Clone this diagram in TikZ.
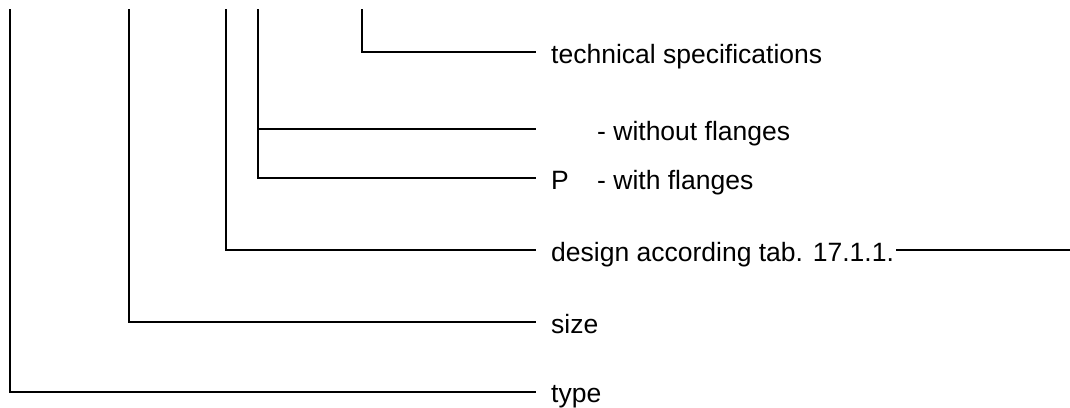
\documentclass[tikz,border=0pt]{standalone}
\usepackage{fontspec}
\setmainfont{Liberation Sans}
\begin{document}
\begin{tikzpicture}[x=1pt,y=-1pt,
  conn/.style={line width=1.4pt, black},
  lbl/.style={anchor=base west, inner sep=0pt, font=\fontsize{26.5}{32}\selectfont}]
\useasboundingbox (0,0) rectangle (1070,407);
% tops of the vertical stems
\coordinate (s1) at (10,9);
\coordinate (s2) at (129,9);
\coordinate (s3) at (226,9);
\coordinate (s4) at (258,9);
\coordinate (s5) at (362,9);
% ends of the horizontal leaders
\coordinate (e1) at (536,52);
\coordinate (e2) at (536,129);
\coordinate (e3) at (536,178);
\coordinate (e4) at (536,250);
\coordinate (e5) at (536,322);
\coordinate (e6) at (536,392);
% labels
\node[lbl] (tech) at (551,63) {technical specifications};
\node[lbl] (wo) at (597,140) {- without flanges};
\node[lbl] (p) at (551,189) {P};
\node[lbl] (wf) at (597,189) {- with flanges};
\node[lbl] (design) at (551,261) {design according tab. 17.1.1.};
\node[lbl] (size) at (551,333) {size};
\node[lbl] (type) at (551,402) {type};
\coordinate (d1) at (896,250);
\coordinate (d2) at (1070,250);
% connectors
\draw[conn] (s5) |- (e1);
\draw[conn] (s4) |- (e3);
\draw[conn] (s4 |- e2) -- (e2);
\draw[conn] (s3) |- (e4);
\draw[conn] (s2) |- (e5);
\draw[conn] (s1) |- (e6);
\draw[conn] (d1) -- (d2);
\end{tikzpicture}
\end{document}
